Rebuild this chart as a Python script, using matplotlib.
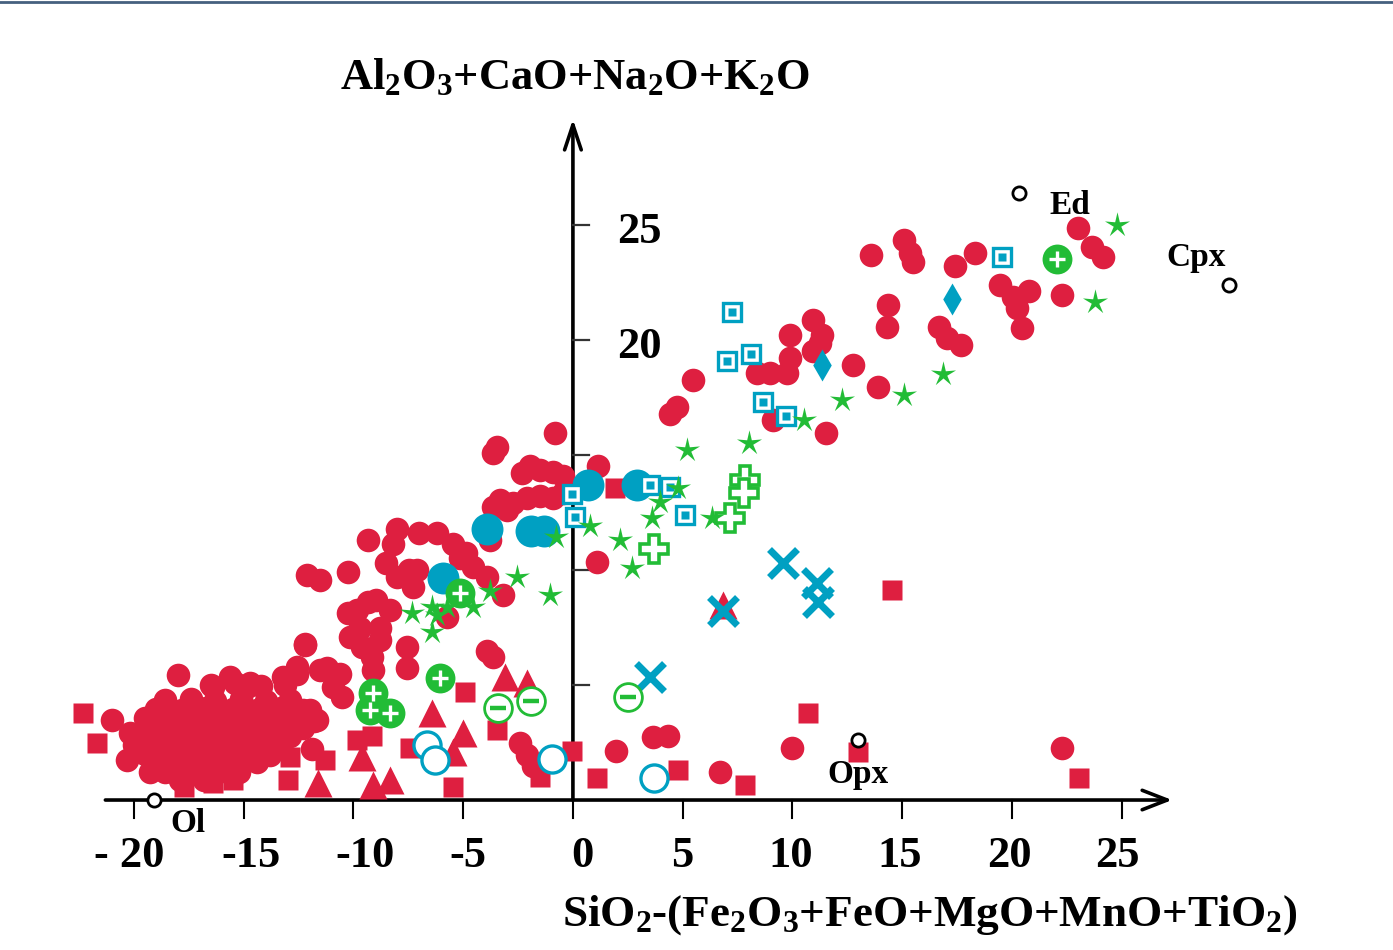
import numpy as np
import matplotlib
matplotlib.use("Agg")
import matplotlib.pyplot as plt
from matplotlib.path import Path

plt.rcParams['font.family'] = ['Liberation Serif', 'DejaVu Serif']
plt.rcParams['mathtext.fontset'] = 'custom'
plt.rcParams['mathtext.rm'] = 'Liberation Serif:bold'
plt.rcParams['mathtext.it'] = 'Liberation Serif:italic:bold'
plt.rcParams['mathtext.bf'] = 'Liberation Serif:bold'

# ---------------- data ----------------
# red filled circles
red_circ_upper_x = [5.45, 4.75, 4.4, 10.95, 9.9, 11.35, 11.25, 10.95, 9.9, 8.4, 9.0, 9.75, 12.75, 9.1, 11.55,
                    13.9, 13.6, 15.1, 15.35, 15.5, 18.3, 17.4, 14.35, 14.3, 16.7, 17.05, 17.7, 19.45, 20.05,
                    20.8, 20.25, 20.45, 22.3, 23.0, 23.65, 24.15]
red_circ_upper_y = [18.25, 17.1, 16.8, 20.85, 20.2, 20.2, 19.85, 19.5, 19.2, 18.55, 18.55, 18.55, 18.9, 16.5, 15.95,
                    17.95, 23.7, 24.35, 23.8, 23.4, 23.8, 23.2, 21.5, 20.55, 20.55, 20.1, 19.8, 22.4, 21.85,
                    22.15, 21.4, 20.5, 21.95, 24.85, 24.05, 23.6]
red_circ_center_x = [-0.8, -3.45, -3.65, 1.15, -1.95, -1.5, -0.9, -0.45, -2.3, -3.3, -2.75, -2.1, -1.5, -0.9,
                     -0.45, -3.65, -3.0, -3.8, 1.1]
red_circ_center_y = [15.95, 15.35, 15.1, 14.5, 14.5, 14.35, 14.25, 14.1, 14.2, 13.05, 12.9, 13.15, 13.2, 13.15,
                     13.35, 12.75, 12.6, 11.3, 10.35]
red_circ_low_x = [1.95, 3.65, 4.35, 6.7, 10.0, 22.3, -2.4, -2.1, -1.8, -3.9, -3.65]
red_circ_low_y = [2.15, 2.75, 2.8, 1.2, 2.25, 2.25, 2.5, 1.95, 1.5, 6.5, 6.2]
red_circ_mid_x = [-9.35, -8.0, -7.0, -6.2, -5.45, -4.85, -8.2, -8.5, -8.0, -7.1, -7.3, -12.1, -11.5, -10.25,
                  -9.35, -10.25, -8.35, -9.7, -8.8, -9.6, -8.8, -9.15, -7.55, -12.2, -5.75, -3.9, -4.55, -5.15,
                  -12.55, -11.5, -10.6, -9.1, -9.85, -9.85, -8.95, -7.45, -3.2, -10.95, -10.5, -10.15, -11.2,
                  -7.55]
red_circ_mid_y = [11.3, 11.8, 11.6, 11.6, 11.15, 10.75, 11.15, 10.3, 9.7, 10.0, 9.25, 9.8, 9.55, 9.9,
                  8.6, 8.15, 8.25, 7.5, 7.5, 6.65, 6.95, 6.2, 6.65, 6.75, 7.95, 9.7, 10.15, 10.5,
                  5.5, 5.65, 5.5, 5.65, 7.25, 8.25, 8.7, 10.0, 8.9, 4.9, 4.5, 7.1, 5.75,
                  5.75]
red_circ_blob_x = [-18.0, -21.0, -20.2, -20.3, -19.25, -18.95, -16.4, -15.6, -14.85, -13.2, -14.7, -12.55,
                   -11.9, -12.0, -11.65, -12.2,
                   -16.5, -15.4, -14.2, -13.1,
                   -18.6, -17.4, -16.3, -15.1, -14.0, -12.9,
                   -19.0, -17.8, -16.7, -15.5, -14.4, -13.3, -12.3,
                   -19.5, -18.3, -17.2, -16.1, -14.9, -13.8, -12.7, -11.8,
                   -19.1, -18.0, -16.8, -15.7, -14.5, -13.4, -12.3,
                   -19.7, -18.6, -17.5, -16.3, -15.2, -14.0, -12.9,
                   -20.0, -18.9, -17.8, -16.7, -15.6, -14.4, -13.3,
                   -19.5, -18.4, -17.2, -16.1, -15.0, -13.8,
                   -19.0, -17.9, -16.7, -15.6, -14.4,
                   -18.6, -17.5, -16.3, -15.2, -17.9, -16.8]
red_circ_blob_y = [5.45, 3.5, 2.9, 1.75, 1.2, 3.9, 4.9, 5.35, 4.9, 5.35, 5.1, 5.8,
                   2.2, 3.9, 3.5, 6.8,
                   5.0, 5.1, 4.95, 5.0,
                   4.35, 4.4, 4.3, 4.4, 4.3, 4.35,
                   3.95, 3.9, 4.0, 3.95, 3.9, 4.0, 3.9,
                   3.55, 3.6, 3.5, 3.55, 3.6, 3.5, 3.55, 3.45,
                   3.15, 3.2, 3.1, 3.15, 3.2, 3.1, 3.15,
                   2.8, 2.75, 2.85, 2.8, 2.75, 2.85, 2.8,
                   2.4, 2.45, 2.35, 2.4, 2.45, 2.35, 2.4,
                   2.0, 2.05, 1.95, 2.0, 2.05, 1.95,
                   1.6, 1.65, 1.55, 1.6, 1.65,
                   1.2, 1.25, 1.15, 1.2, 0.85, 0.85]

red_sq_x = [-22.3, -21.7, -17.7, -16.4, -15.5, -13.0, -12.9, -11.3, -9.85, -9.15, -7.4, -5.45, -4.9, -3.45,
            -1.5, -0.05, 1.1, 1.9, 4.8, 7.85, 10.7, 13.0, 14.55, 23.05]
red_sq_y = [3.8, 2.5, 0.55, 0.75, 0.85, 0.85, 1.85, 1.75, 2.6, 2.8, 2.25, 0.55, 4.7, 3.05,
            1.0, 2.15, 0.95, 13.55, 1.3, 0.65, 3.8, 2.1, 9.15, 0.95]

red_tri_x = [-6.4, -5.0, -5.45, -3.1, -2.1, -9.1, -8.35, -9.6, -11.6, 6.85]
red_tri_y = [3.8, 2.9, 2.1, 5.35, 5.1, 0.65, 0.85, 1.85, 0.75, 8.5]

blue_circ_x = [-3.9, -1.9, -1.3, 0.7, 2.9, -5.9]
blue_circ_y = [11.8, 11.7, 11.7, 13.7, 13.7, 9.65]

blue_open_x = [-6.65, -6.3, -0.95, 3.7]
blue_open_y = [2.4, 1.75, 1.8, 0.95]

blue_sq_x = [-0.05, 0.1, 3.5, 4.4, 5.1, 7.25, 7.0, 8.1, 8.65, 9.7, 19.55]
blue_sq_y = [13.3, 12.3, 13.7, 13.6, 12.4, 21.2, 19.1, 19.4, 17.3, 16.7, 23.6]

blue_dia_x = [11.35, 17.25]
blue_dia_y = [18.9, 21.8]

blue_x_x = [9.55, 11.1, 11.15, 6.85, 3.5]
blue_x_y = [10.3, 9.45, 8.6, 8.2, 5.35]

green_plus_x = [-9.1, -9.25, -8.35, -6.05, -5.15, 22.05]
green_plus_y = [4.65, 3.9, 3.8, 5.3, 9.0, 23.5]

green_minus_x = [-3.4, -1.9, 2.5]
green_minus_y = [4.0, 4.3, 4.5]

green_cross_x = [7.85, 7.8, 7.15, 3.7]
green_cross_y = [13.9, 13.35, 12.25, 10.9]

green_star_x = [24.8, 23.8, 16.85, 15.1, 12.25, 10.55, 8.0, 5.2, 4.8, 3.95, 3.6, 6.35, 0.8, 2.15, 2.7,
                -0.75, -1.05, -2.55, -3.8, -4.55, -5.75, -6.2, -6.4, -7.35, -6.4]
green_star_y = [25.0, 21.65, 18.5, 17.6, 17.4, 16.5, 15.5, 15.2, 13.55, 12.95, 12.25, 12.25, 11.9, 11.3, 10.1,
                11.45, 8.9, 9.7, 9.1, 8.4, 8.4, 8.05, 8.4, 8.15, 7.3]

end_names = ['Ol', 'Opx', 'Ed', 'Cpx']
end_x = [-19.1, 13.0, 20.3, 29.9]
end_y = [0.0, 2.6, 26.4, 22.4]
end_label_x = [-17.55, 13.0, 22.65, 28.4]
end_label_y = [-1.0, 1.1, 25.85, 23.6]

x_ticks = [-20, -15, -10, -5, 0, 5, 10, 15, 20, 25]
x_tick_labels = ['- 20', '-15', '-10', '-5', '0', '5', '10', '15', '20', '25']
y_ticks = [5, 10, 15, 20, 25]
y_tick_labels = ['', '', '', '20', '25']

x_title = r'SiO$_2$-(Fe$_2$O$_3$+FeO+MgO+MnO+TiO$_2$)'
y_title = r'Al$_2$O$_3$+CaO+Na$_2$O+K$_2$O'

# ---------------- style ----------------
RED = '#DE1F40'
BLUE = '#00A0C2'
GREEN = '#22BC36'
x_label_offsets = [-0.2, 0.35, 0.55, 0.2, 0.45, 0.0, -0.1, -0.1, -0.1, -0.2]

fig = plt.figure(figsize=(13.93, 9.5), dpi=100)
ax = fig.add_axes([0, 0, 1, 1])
ax.set_xlim(-26.10, 37.36)
ax.set_ylim(-6.52, 34.78)
ax.axis('off')

# top border line
fig.add_artist(plt.Line2D([0, 1], [0.998, 0.998], transform=fig.transFigure, color='#45607f', lw=2))

# axes with arrows
ax.annotate('', xy=(27.3, 0), xytext=(-21.3, 0),
            arrowprops=dict(arrowstyle='->,head_length=0.9,head_width=0.35', lw=2.6, color='black',
                            shrinkA=0, shrinkB=0, mutation_scale=20), zorder=1)
ax.annotate('', xy=(0, 29.6), xytext=(0, 0),
            arrowprops=dict(arrowstyle='->,head_length=0.9,head_width=0.3', lw=2.6, color='black',
                            shrinkA=0, shrinkB=0, mutation_scale=20), zorder=1)
for t in x_ticks:
    ax.plot([t, t], [0, -0.8], color='black', lw=1.5, zorder=1)
for t in y_ticks:
    ax.plot([0, 0.75], [t, t], color='#333333', lw=1.6, zorder=1)

for t, lab, off in zip(x_ticks, x_tick_labels, x_label_offsets):
    ax.text(t + off, -2.45, lab, ha='center', va='center', fontsize=32, fontweight='bold')
for t, lab in zip(y_ticks, y_tick_labels):
    if lab:
        ax.text(3.05, t - 0.3, lab, ha='center', va='center', fontsize=32, fontweight='bold')

ax.text(0.1, 31.4, y_title, ha='center', va='center', fontsize=32, fontweight='bold')
ax.text(16.26, -5.0, x_title, ha='center', va='center', fontsize=32.5, fontweight='bold')

# ---------------- markers ----------------
def star_marker(n=5, inner=0.3):
    ang = np.pi / 2 + np.arange(2 * n) * np.pi / n
    r = np.where(np.arange(2 * n) % 2 == 0, 1.0, inner)
    v = np.column_stack([r * np.cos(ang), r * np.sin(ang)])
    return Path(np.vstack([v, v[:1]]), closed=True)

STAR = star_marker()
DIAM = Path([(0, 1), (0.58, 0), (0, -1), (-0.58, 0), (0, 1)], closed=True)

rx = red_circ_blob_x + red_circ_mid_x + red_circ_center_x + red_circ_low_x + red_circ_upper_x
ry = red_circ_blob_y + red_circ_mid_y + red_circ_center_y + red_circ_low_y + red_circ_upper_y
ax.plot(rx, ry, 'o', ms=17, color=RED, mec='none', zorder=2)
ax.plot(red_sq_x, red_sq_y, 's', ms=14, color=RED, mec='none', zorder=2.2)
ax.plot(red_tri_x, red_tri_y, '^', ms=20, color=RED, mec='none', zorder=2.1)

ax.plot(blue_circ_x, blue_circ_y, 'o', ms=23, color=BLUE, mec='none', zorder=3)
ax.plot(blue_open_x, blue_open_y, 'o', ms=19.5, mfc='white', mec=BLUE, mew=2.4, zorder=3)
ax.plot(blue_sq_x, blue_sq_y, 's', ms=13.5, mfc='white', mec=BLUE, mew=2.4, zorder=3.5)
ax.plot(blue_sq_x, blue_sq_y, 's', ms=5.8, color=BLUE, mec='none', zorder=3.6)
ax.plot(blue_dia_x, blue_dia_y, marker=DIAM, ls='none', ms=23, color=BLUE, mec='none', zorder=3)
ax.plot(blue_x_x, blue_x_y, 'x', ms=20, color=BLUE, mew=5.0, zorder=3.2)

ax.plot(green_plus_x, green_plus_y, 'o', ms=21.5, color=GREEN, mec='none', zorder=4)
ax.plot(green_plus_x, green_plus_y, '+', ms=11, color='white', mew=2.4, zorder=4.1)
ax.plot(green_minus_x, green_minus_y, 'o', ms=20, mfc='white', mec=GREEN, mew=2.0, zorder=4)
ax.plot(green_minus_x, green_minus_y, '_', ms=11, color=GREEN, mew=3.2, zorder=4.1)
ax.plot(green_cross_x, green_cross_y, 'P', ms=20, mfc='white', mec=GREEN, mew=2.6, zorder=4)
ax.plot(green_star_x, green_star_y, marker=STAR, ls='none', ms=19, color=GREEN, mec='none', zorder=4.5)

ax.plot(end_x, end_y, 'o', ms=9.5, mfc='white', mec='black', mew=2.0, zorder=5)
for name, lx, ly in zip(end_names, end_label_x, end_label_y):
    ax.text(lx, ly, name, ha='center', va='center', fontsize=24, fontweight='bold', zorder=5)

fig.savefig('out.png', dpi=100)
